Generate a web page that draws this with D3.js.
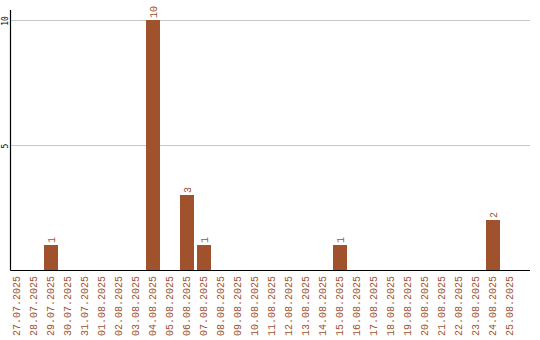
<!DOCTYPE html>
<html>
<head>
<meta charset="utf-8">
<script src="https://cdn.jsdelivr.net/npm/d3@7"></script>
<style>
  html, body { margin: 0; padding: 0; background: #fff; }
  svg { display: block; }
  text { font-family: "Liberation Mono", "DejaVu Sans Mono", monospace; }
  text.ytick { font-family: "DejaVu Sans Mono", monospace; }
</style>
</head>
<body>
<svg id="chart" width="540" height="340"></svg>
<script>
// Daily counts, 27.07.2025 – 25.08.2025
const dates = [
  "27.07.2025","28.07.2025","29.07.2025","30.07.2025","31.07.2025",
  "01.08.2025","02.08.2025","03.08.2025","04.08.2025","05.08.2025",
  "06.08.2025","07.08.2025","08.08.2025","09.08.2025","10.08.2025",
  "11.08.2025","12.08.2025","13.08.2025","14.08.2025","15.08.2025",
  "16.08.2025","17.08.2025","18.08.2025","19.08.2025","20.08.2025",
  "21.08.2025","22.08.2025","23.08.2025","24.08.2025","25.08.2025"
];
const counts = [
  0, 0, 1, 0, 0,
  0, 0, 0, 10, 0,
  3, 1, 0, 0, 0,
  0, 0, 0, 0, 1,
  0, 0, 0, 0, 0,
  0, 0, 0, 2, 0
];
const yTicks = [5, 10];

const barColor = "#a0522d";
const svg = d3.select("#chart");

const plotLeft = 10.5, plotRight = 530, plotTop = 10, plotBottom = 270;

const x = d3.scaleBand()
  .domain(dates)
  .range([8.5, 8.5 + 17 * dates.length])
  .paddingInner(3 / 17)
  .paddingOuter(1.5 / 17);

const y = d3.scaleLinear()
  .domain([0, 10])
  .range([plotBottom, 20]);

// horizontal grid lines
svg.append("g")
  .selectAll("line")
  .data(yTicks)
  .join("line")
  .attr("x1", plotLeft)
  .attr("x2", plotRight)
  .attr("y1", d => Math.round(y(d)) + 0.5)
  .attr("y2", d => Math.round(y(d)) + 0.5)
  .attr("stroke", "#c8c8c8")
  .attr("stroke-width", 1);

// bars
const nonZero = dates.map((d, i) => ({ date: d, value: counts[i] })).filter(d => d.value > 0);

svg.append("g")
  .selectAll("rect")
  .data(nonZero)
  .join("rect")
  .attr("x", d => x(d.date))
  .attr("width", x.bandwidth())
  .attr("y", d => y(d.value))
  .attr("height", d => y(0) - y(d.value))
  .attr("fill", barColor);

// value labels above bars
svg.append("g")
  .selectAll("text")
  .data(nonZero)
  .join("text")
  .attr("transform", d => `translate(${x(d.date) + x.bandwidth() / 2 + 3.5},${y(d.value) - 2}) rotate(-90)`)
  .attr("text-anchor", "start")
  .attr("font-size", "10px")
  .attr("fill", barColor)
  .text(d => d.value);

// axes lines
svg.append("line")
  .attr("x1", plotLeft).attr("x2", plotLeft)
  .attr("y1", plotTop).attr("y2", plotBottom + 0.5)
  .attr("stroke", "#000").attr("stroke-width", 1.2);
svg.append("line")
  .attr("x1", plotLeft).attr("x2", plotRight)
  .attr("y1", plotBottom + 0.5).attr("y2", plotBottom + 0.5)
  .attr("stroke", "#000").attr("stroke-width", 1.2);

// y tick labels
svg.append("g")
  .selectAll("text")
  .data(yTicks)
  .join("text")
  .attr("class", "ytick")
  .attr("transform", d => `translate(8,${y(d) + 1}) rotate(-90)`)
  .attr("text-anchor", "middle")
  .attr("font-size", "8px")
  .attr("fill", "#000")
  .text(d => d);

// x tick labels (rotated dates)
svg.append("g")
  .selectAll("text")
  .data(dates)
  .join("text")
  .attr("transform", d => `translate(${x(d) + x.bandwidth() / 2 + 3},${plotBottom + 6}) rotate(-90)`)
  .attr("text-anchor", "end")
  .attr("font-size", "10px")
  .attr("fill", barColor)
  .text(d => d);
</script>
</body>
</html>
